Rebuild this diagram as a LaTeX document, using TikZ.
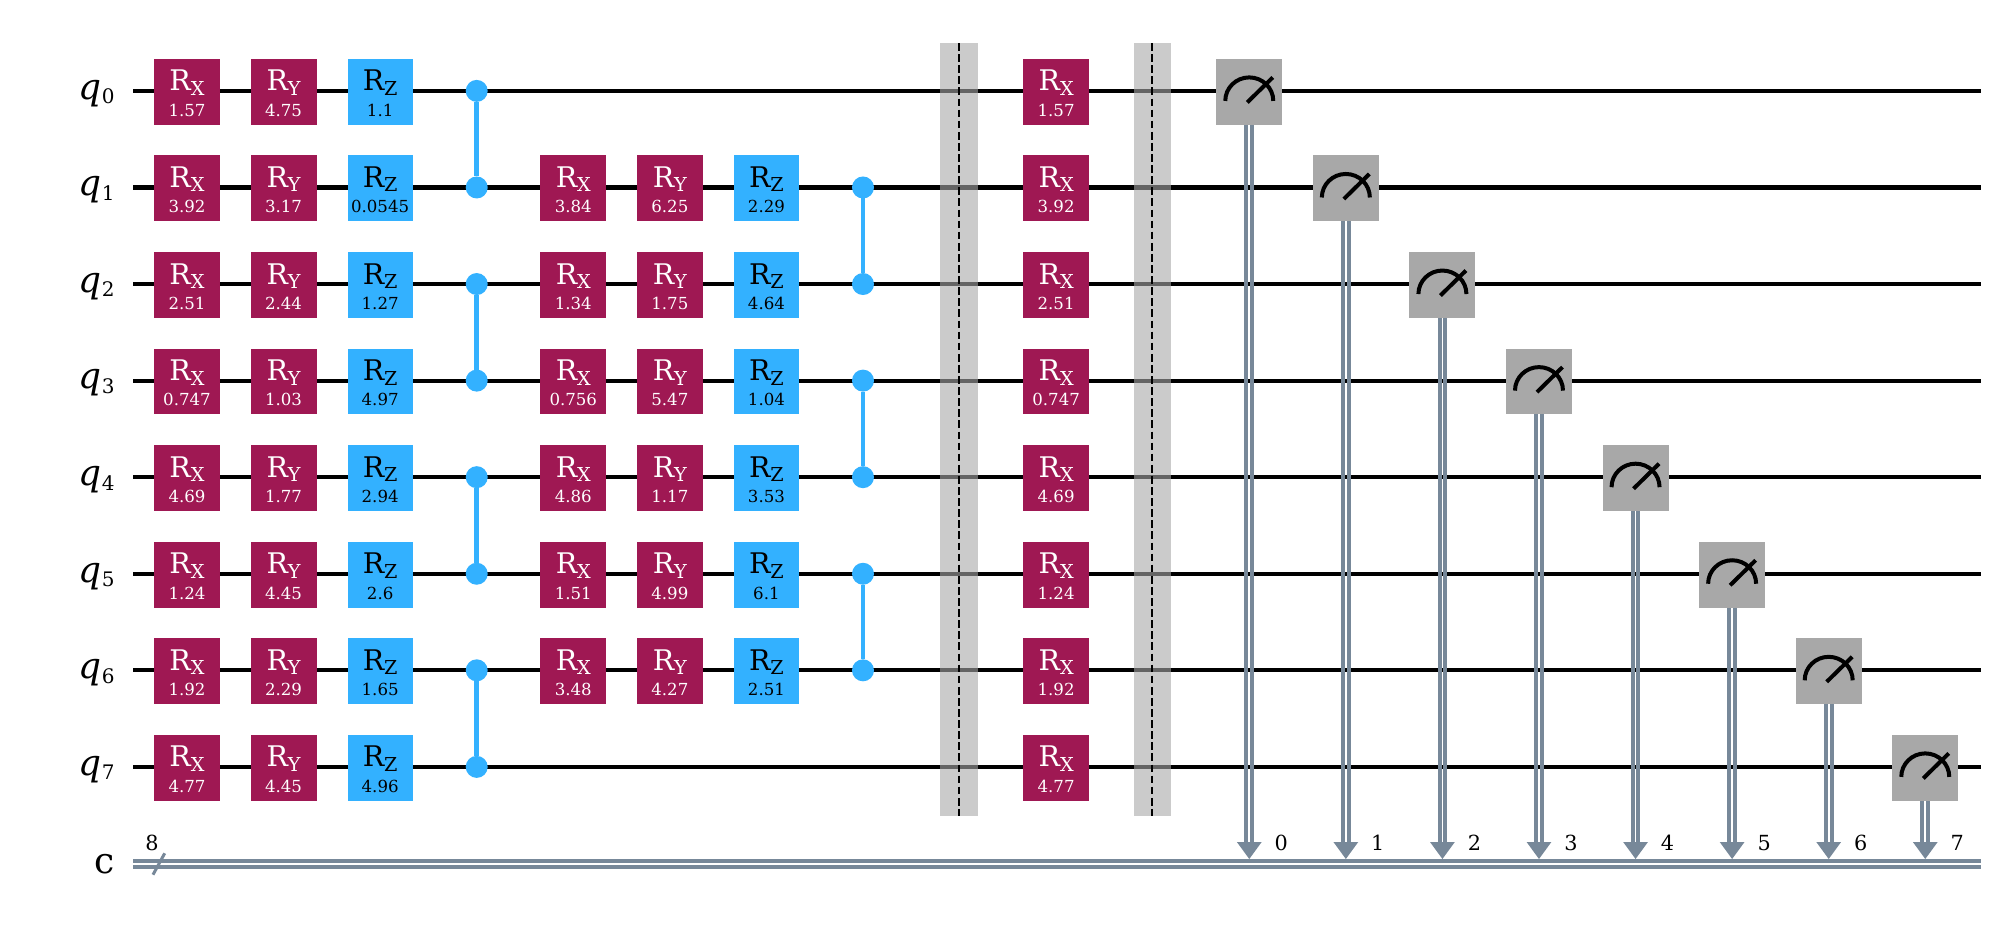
\documentclass[tikz,border=0pt]{standalone}
\usepackage{fontspec}
\setmainfont{DejaVu Serif}
\newfontfamily\qitfont{DejaVu Serif Italic}
\definecolor{rxc}{HTML}{9F1853}
\definecolor{rzc}{HTML}{33B1FF}
\definecolor{mg}{HTML}{A8A8A8}
\definecolor{clc}{HTML}{778899}
\newcommand{\fs}[1]{\fontsize{#1}{#1}\selectfont}
\newcommand{\wy}[1]{90.9+96.57*#1}
\newcommand{\cx}[1]{187+96.57*#1}
% \gatenode{name}{col}{row}{style}{textcolor}{sub}{param}
\newcommand{\gatenode}[7]{%
  \node[#4] (#1) at ({\cx{#2}},{\wy{#3}+0.9}) {};
  \node[gatemain,text=#5] (#1-m) at ([yshift=0.45pt]#1.center) {R{\fs{9.6}\raisebox{-2.2pt}{#6}}};
  \node[gateparam,text=#5] (#1-p) at ([yshift=-12.2pt]#1.center) {#7};
}
\tikzset{
  x=0.5pt,y=-0.5pt,
  wire/.style={line width=2.1pt,black},
  rxbox/.style={fill=rxc,draw=none,minimum width=33pt,minimum height=32.9pt,inner sep=0pt,outer sep=0pt},
  rybox/.style={rxbox},
  rzbox/.style={fill=rzc,draw=none,minimum width=32.6pt,minimum height=32.9pt,inner sep=0pt,outer sep=0pt},
  gatemain/.style={inner sep=0pt,outer sep=0pt,anchor=base,font=\fs{14.2}},
  gateparam/.style={inner sep=0pt,outer sep=0pt,anchor=base,font=\fs{8.3}},
  czdot/.style={circle,fill=rzc,draw=none,minimum size=11pt,inner sep=0pt,outer sep=0pt},
  czline/.style={line width=2.3pt,rzc},
  shade/.style={fill=mg,fill opacity=0.6,draw=none,inner sep=0pt,outer sep=0pt},
  barline/.style={line width=1.05pt,black,dash pattern=on 3.85pt off 1.7pt},
  mbox/.style={fill=mg,draw=none,minimum width=33pt,minimum height=32.9pt,inner sep=0pt,outer sep=0pt},
  gauge/.style={line width=2pt,black},
  clw/.style={line width=2pt,clc},
  chead/.style={fill=clc,draw=none},
  qlab/.style={inner sep=0pt,outer sep=0pt,anchor=base east,font=\fs{18}},
  clab/.style={inner sep=0pt,outer sep=0pt,anchor=base,font=\fs{10.4}},
}
\begin{document}
\begin{tikzpicture}
\useasboundingbox (0,0) rectangle (2003,937);
% wires
\foreach \i in {0,...,7}{
  \coordinate (ws\i) at (133,{\wy{\i}});
  \coordinate (we\i) at (1981,{\wy{\i}});
  \draw[wire] (ws\i) -- (we\i);
  \node[qlab] (ql\i) at (114.5,{\wy{\i}+8.3}) {{\qitfont q}{\fs{10}\raisebox{-2.3pt}{\i}}};
}
\coordinate (cs) at (133,864);
\coordinate (ce) at (1981,864);
\draw[clw] ([yshift=1.5pt]cs) -- ([yshift=1.5pt]ce);
\draw[clw] ([yshift=-1.5pt]cs) -- ([yshift=-1.5pt]ce);
\node[qlab] (cl) at (114.5,873) {c};
\coordinate (sa) at (153,874.7);
\coordinate (sb) at (164.7,853.3);
\draw[clc,line width=1.5pt] (sa) -- (sb);
\node[clab] (cn) at (152,850) {8};
% barriers
\foreach \n/\a/\b/\c in {1/940/978/959,2/1134/1171/1152}{
  \path[shade] (\a,43) rectangle (\b,816);
  \coordinate (bt\n) at (\c,43);
  \coordinate (bb\n) at (\c,816);
  \draw[barline] (bt\n) -- (bb\n);
}
% gates
\foreach \r/\a/\b/\c in {0/1.57/4.75/1.1,1/3.92/3.17/0.0545,2/2.51/2.44/1.27,3/0.747/1.03/4.97,4/4.69/1.77/2.94,5/1.24/4.45/2.6,6/1.92/2.29/1.65,7/4.77/4.45/4.96}{
  \gatenode{x\r}{0}{\r}{rxbox}{white}{X}{\a}
  \gatenode{y\r}{1}{\r}{rybox}{white}{Y}{\b}
  \gatenode{z\r}{2}{\r}{rzbox}{black}{Z}{\c}
  \gatenode{xx\r}{9}{\r}{rxbox}{white}{X}{\a}
}
\foreach \r/\a/\b/\c in {1/3.84/6.25/2.29,2/1.34/1.75/4.64,3/0.756/5.47/1.04,4/4.86/1.17/3.53,5/1.51/4.99/6.1,6/3.48/4.27/2.51}{
  \gatenode{u\r}{4}{\r}{rxbox}{white}{X}{\a}
  \gatenode{v\r}{5}{\r}{rybox}{white}{Y}{\b}
  \gatenode{w\r}{6}{\r}{rzbox}{black}{Z}{\c}
}
% CZ
\foreach \c/\p/\q in {3/0/1,3/2/3,3/4/5,3/6/7,7/1/2,7/3/4,7/5/6}{
  \node[czdot] (d\c\p) at ({\cx{\c}},{\wy{\p}}) {};
  \node[czdot] (d\c\q) at ({\cx{\c}},{\wy{\q}}) {};
  \draw[czline] (d\c\p) -- (d\c\q);
}
% measures
\foreach \i in {0,...,7}{
  \pgfmathsetmacro{\mx}{\cx{(11+\i)}}
  \pgfmathsetmacro{\my}{\wy{\i}}
  \coordinate (t\i) at (\mx,859);
  \coordinate (h\i) at (\mx,842);
  \draw[clw] (\mx-2.85,\my+30) -- (\mx-2.85,843);
  \draw[clw] (\mx+2.85,\my+30) -- (\mx+2.85,843);
  \node[mbox] (m\i) at (\mx,\my+0.9) {};
  \path[chead] (t\i) -- (\mx-12.4,842) -- (\mx+12.4,842) -- cycle;
  \draw[gauge] (\mx-24,\my+10) arc[start angle=180,end angle=360,x radius=24,y radius=23.5];
  \draw[gauge] (\mx-2,\my+11.5) -- (\mx+23.5,\my-13.5);
  \node[clab] (n\i) at (\mx+32,850) {\i};
}
\end{tikzpicture}
\end{document}
